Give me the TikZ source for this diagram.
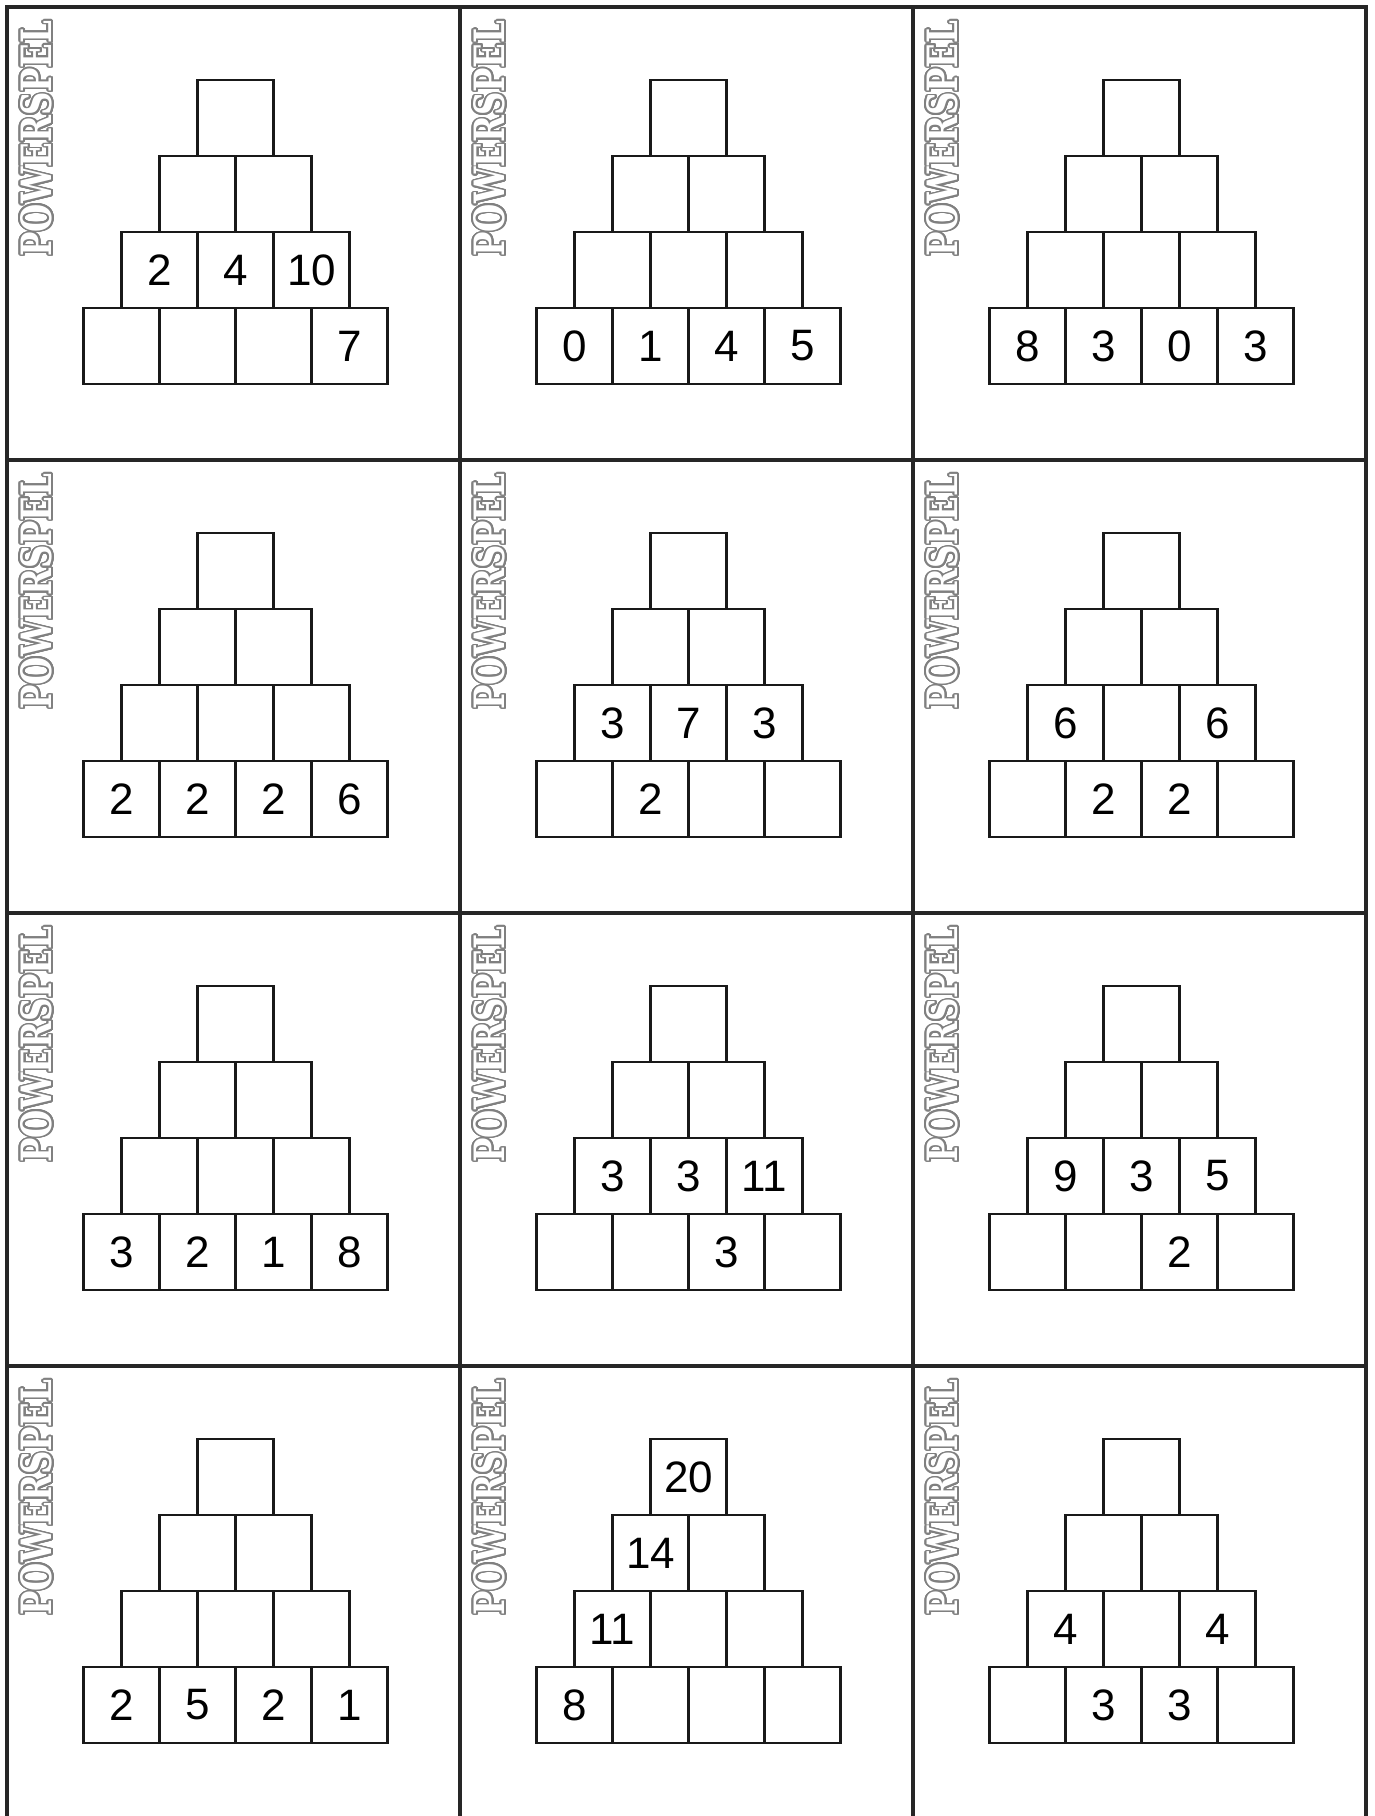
\documentclass[tikz,border=0pt]{standalone}
\usepackage{fontspec}
\setmainfont{Liberation Sans}
\newfontfamily\tagfont{DejaVu Serif}
\usepackage{contour}
\contourlength{0.45pt}
\contournumber{24}

\tikzset{
  brick/.style={draw=black!90, line width=1.4pt, minimum size=38pt, inner sep=0pt,
    font=\fontsize{22}{22}\selectfont},
  pyrtag/.style={rotate=90, inner sep=0pt},
  cellline/.style={line width=1.7pt, draw=black!85}
}

% one card: name, cell corner, rows from top
\newcommand{\drawpyramid}[6]{%
  \begin{scope}[shift={(#2)}]
    \node[pyrtag] (#1-tag) at (30.5,131.5)
      {\resizebox{118pt}{15.5pt}{\tagfont\bfseries\color{white}\contour{black!50}{POWERSPEL}}};
    \foreach \r/\vals in {1/{#3},2/{#4},3/{#5},4/{#6}} {
      \foreach \v [count=\k] in \vals
        \node[brick] (#1-\r-\k) at ({228.5+(\k-(\r+1)/2)*76}, {111+(\r-1)*76}) {\v};
    }
  \end{scope}
}

\begin{document}
\begin{tikzpicture}[x=0.5pt,y=-0.5pt]
\useasboundingbox (0,0) rectangle (1375,1816);

% card grid
\draw[cellline] (7,1816) -- (7,7) -- (1366,7) -- (1366,1816);
\foreach \x in {460,913} \draw[cellline] (\x,7) -- (\x,1816);
\foreach \y in {460,913,1366} \draw[cellline] (7,\y) -- (1366,\y);

% pyramids
\drawpyramid{p1}{7,7}{{}}{{},{}}{2,4,10}{{},{},{},7}
\drawpyramid{p2}{460,7}{{}}{{},{}}{{},{},{}}{0,1,4,5}
\drawpyramid{p3}{913,7}{{}}{{},{}}{{},{},{}}{8,3,0,3}
\drawpyramid{p4}{7,460}{{}}{{},{}}{{},{},{}}{2,2,2,6}
\drawpyramid{p5}{460,460}{{}}{{},{}}{3,7,3}{{},2,{},{}}
\drawpyramid{p6}{913,460}{{}}{{},{}}{6,{},6}{{},2,2,{}}
\drawpyramid{p7}{7,913}{{}}{{},{}}{{},{},{}}{3,2,1,8}
\drawpyramid{p8}{460,913}{{}}{{},{}}{3,3,11}{{},{},3,{}}
\drawpyramid{p9}{913,913}{{}}{{},{}}{9,3,5}{{},{},2,{}}
\drawpyramid{p10}{7,1366}{{}}{{},{}}{{},{},{}}{2,5,2,1}
\drawpyramid{p11}{460,1366}{20}{14,{}}{11,{},{}}{8,{},{},{}}
\drawpyramid{p12}{913,1366}{{}}{{},{}}{4,{},4}{{},3,3,{}}

\end{tikzpicture}
\end{document}
